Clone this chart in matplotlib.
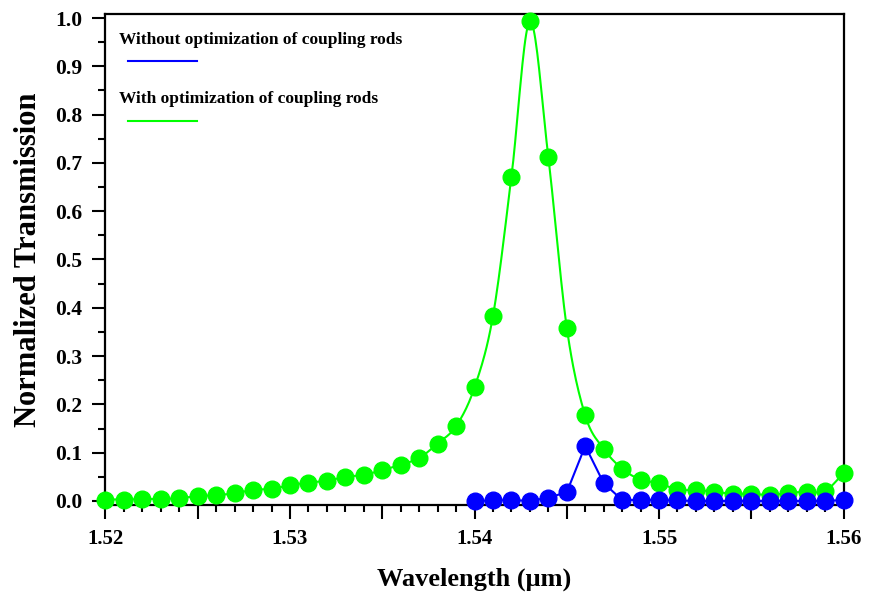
import numpy as np
import matplotlib
matplotlib.use("Agg")
import matplotlib.pyplot as plt
from matplotlib.ticker import MultipleLocator, FixedLocator

# ---- data ----
wl_with = [1.520, 1.521, 1.522, 1.523, 1.524, 1.525, 1.526, 1.527, 1.528, 1.529,
           1.530, 1.531, 1.532, 1.533, 1.534, 1.535, 1.536, 1.537, 1.538, 1.539,
           1.540, 1.541, 1.542, 1.543, 1.544, 1.545, 1.546, 1.547, 1.548, 1.549,
           1.550, 1.551, 1.552, 1.553, 1.554, 1.555, 1.556, 1.557, 1.558, 1.559,
           1.560]
t_with = [0.003, 0.003, 0.004, 0.004, 0.006, 0.010, 0.012, 0.016, 0.023, 0.025,
          0.033, 0.038, 0.042, 0.050, 0.054, 0.064, 0.075, 0.089, 0.119, 0.155,
          0.235, 0.383, 0.671, 0.993, 0.712, 0.359, 0.177, 0.108, 0.067, 0.044,
          0.037, 0.023, 0.023, 0.019, 0.015, 0.015, 0.012, 0.017, 0.019, 0.021,
          0.057]

wl_without = [1.540, 1.541, 1.542, 1.543, 1.544, 1.545, 1.546, 1.547, 1.548, 1.549,
              1.550, 1.551, 1.552, 1.553, 1.554, 1.555, 1.556, 1.557, 1.558, 1.559,
              1.560]
t_without = [0.000, 0.001, 0.002, 0.000, 0.007, 0.018, 0.114, 0.037, 0.002, 0.002,
             0.002, 0.001, 0.000, 0.000, 0.000, 0.000, 0.000, 0.000, 0.000, 0.000,
             0.002]

x_ticks = [1.52, 1.53, 1.54, 1.55, 1.56]
x_ticklabels = ["1.52", "1.53", "1.54", "1.55", "1.56"]
y_ticks = [0.0, 0.1, 0.2, 0.3, 0.4, 0.5, 0.6, 0.7, 0.8, 0.9, 1.0]
y_ticklabels = ["0.0", "0.1", "0.2", "0.3", "0.4", "0.5", "0.6", "0.7", "0.8", "0.9", "1.0"]

label_without = "Without optimization of coupling rods"
label_with = "With optimization of coupling rods"
xlabel = "Wavelength (\u03bcm)"
ylabel = "Normalized Transmission"


def catmull_rom(x, y, n=20):
    """Smooth curve through the data points (rendering only)."""
    x = np.asarray(x, float)
    y = np.asarray(y, float)
    px = np.concatenate([[2 * x[0] - x[1]], x, [2 * x[-1] - x[-2]]])
    py = np.concatenate([[2 * y[0] - y[1]], y, [2 * y[-1] - y[-2]]])
    xs, ys = [], []
    t = np.linspace(0, 1, n, endpoint=False)
    for i in range(1, len(px) - 2):
        p0, p1, p2, p3 = py[i - 1], py[i], py[i + 1], py[i + 2]
        q0, q1, q2, q3 = px[i - 1], px[i], px[i + 1], px[i + 2]
        t2, t3 = t * t, t * t * t
        ys.append(0.5 * (2 * p1 + (-p0 + p2) * t + (2 * p0 - 5 * p1 + 4 * p2 - p3) * t2 + (-p0 + 3 * p1 - 3 * p2 + p3) * t3))
        xs.append(0.5 * (2 * q1 + (-q0 + q2) * t + (2 * q0 - 5 * q1 + 4 * q2 - q3) * t2 + (-q0 + 3 * q1 - 3 * q2 + q3) * t3))
    xs.append([x[-1]])
    ys.append([y[-1]])
    return np.concatenate(xs), np.concatenate(ys)


plt.rcParams['font.family'] = ['Liberation Serif', 'DejaVu Serif']
plt.rcParams['font.weight'] = 'bold'

fig = plt.figure(figsize=(8.69, 5.96), dpi=100)
ax = fig.add_axes([0.1214, 0.1527, 0.8493, 0.8238])

GREEN = '#00FF00'
BLUE = '#0000FF'

sx, sy = catmull_rom(wl_with, t_with)
ax.plot(sx, sy, color=GREEN, lw=1.5, clip_on=False, zorder=2)
ax.plot(wl_with, t_with, 'o', color=GREEN, ms=12, mec=GREEN, clip_on=False, zorder=3)

ax.plot(wl_without, t_without, '-', color=BLUE, lw=1.5, clip_on=False, zorder=4)
ax.plot(wl_without, t_without, 'o', color=BLUE, ms=12, mec=BLUE, clip_on=False, zorder=5)

ax.set_xlim(1.52, 1.56)
ax.set_ylim(-0.0083, 1.0083)

# major ticks every 0.005 (labels only at 0.01), minor every 0.001
ax.xaxis.set_major_locator(MultipleLocator(0.005))
ax.xaxis.set_major_formatter(plt.FuncFormatter(
    lambda v, p: x_ticklabels[x_ticks.index(round(v, 3))] if round(v, 3) in x_ticks else ""))
ax.xaxis.set_minor_locator(MultipleLocator(0.001))
ax.yaxis.set_major_locator(FixedLocator(y_ticks))
ax.set_yticklabels(y_ticklabels)
ax.yaxis.set_minor_locator(MultipleLocator(0.05))

ax.tick_params(axis='both', which='both', direction='out', width=1.5, colors='black',
               top=False, right=False)
ax.tick_params(axis='x', which='major', length=10, pad=7, labelsize=15)
ax.tick_params(axis='x', which='minor', length=5)
ax.tick_params(axis='y', which='major', length=9.5, pad=7, labelsize=15.5)
ax.tick_params(axis='y', which='minor', length=4.7)
for lab in ax.get_xticklabels() + ax.get_yticklabels():
    lab.set_fontweight('bold')

for s in ax.spines.values():
    s.set_linewidth(1.6)
    s.set_color('black')

ax.set_xlabel(xlabel, fontsize=19, fontweight='bold', labelpad=14)
ax.set_ylabel(ylabel, fontsize=22, fontweight='bold', labelpad=9)

# custom legend (text with line sample below)
ax.text(0.018, 0.947, label_without, transform=ax.transAxes, fontsize=12.5,
        fontweight='bold', ha='left', va='center')
ax.plot([0.030, 0.124], [0.904, 0.904], transform=ax.transAxes, color=BLUE, lw=1.5)
ax.text(0.018, 0.827, label_with, transform=ax.transAxes, fontsize=12.5,
        fontweight='bold', ha='left', va='center')
ax.plot([0.030, 0.124], [0.782, 0.782], transform=ax.transAxes, color=GREEN, lw=1.5)

fig.savefig('out.png', dpi=100)
